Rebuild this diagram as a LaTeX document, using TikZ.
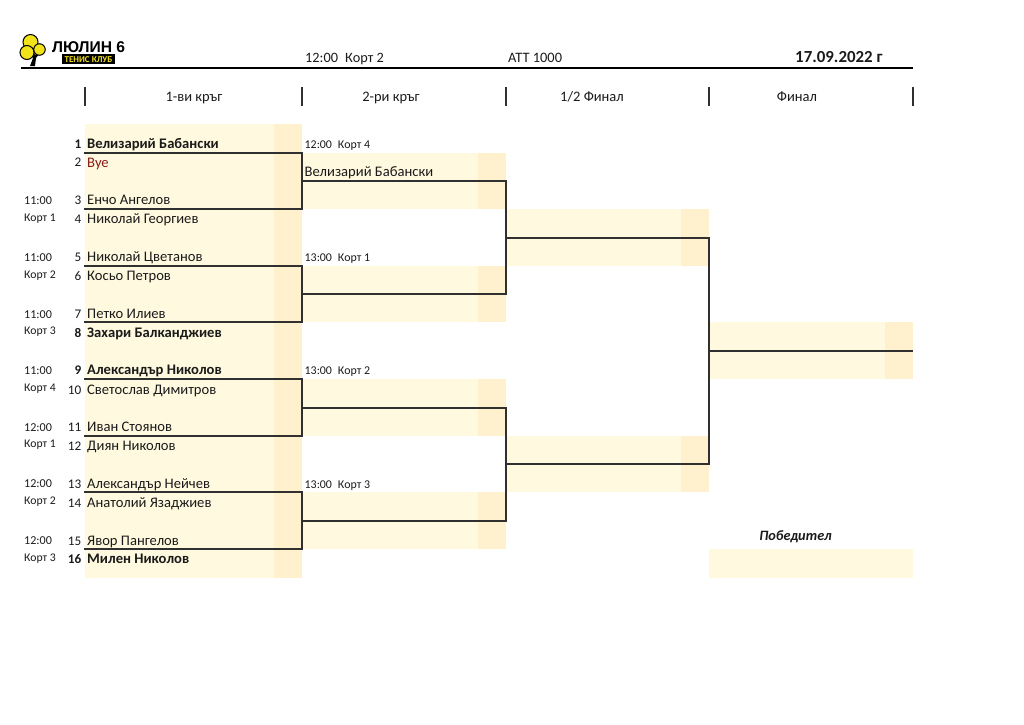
\documentclass[tikz,border=0pt]{standalone}
\usepackage{fontspec}
\setmainfont{Carlito}
\newfontfamily\logofont{Liberation Sans}
\definecolor{lite}{HTML}{FFFADF}
\definecolor{dark}{HTML}{FFF1CE}
\definecolor{bye}{HTML}{8B1A1A}
\definecolor{ink}{HTML}{1A1A1A}
\definecolor{wirec}{HTML}{303030}
\definecolor{treeY}{HTML}{F2E21B}
\tikzset{
  wire/.style={draw=wirec,line width=1.5pt,line cap=rect},
  head/.style={draw=wirec,line width=1.5pt},
  nm/.style={anchor=base west,inner sep=0pt,font=\fontsize{14.6}{15}\selectfont,text=ink},
  bnm/.style={nm,font=\fontsize{14.6}{15}\selectfont\bfseries},
  num/.style={anchor=base east,inner sep=0pt,font=\fontsize{13.2}{14}\selectfont,text=ink},
  bnum/.style={num,font=\fontsize{13.2}{14}\selectfont\bfseries},
  timetxt/.style={anchor=base west,inner sep=0pt,font=\fontsize{12.1}{13}\selectfont,text=ink},
  courttxt/.style={anchor=base west,inner sep=0pt,font=\fontsize{11.7}{13}\selectfont,text=ink},
  match/.style={anchor=base west,inner sep=0pt,font=\fontsize{11.9}{13}\selectfont,text=ink},
  title/.style={anchor=base,inner sep=0pt,font=\fontsize{14.5}{15}\selectfont,text=ink},
  ball/.style={fill=treeY,draw=black,line width=1pt,circle,inner sep=0pt},
}
\begin{document}
\begin{tikzpicture}[x=1pt,y=-1pt]
\useasboundingbox (0,0) rectangle (1024,724);
% fills
\fill[lite] (85,124) rectangle (274,578);
\fill[dark] (274,124) rectangle (302,578);
\foreach \a/\b in {152.5/209,265.5/322,379/436,492/549}{
  \fill[lite] (302,\a) rectangle (478,\b);
  \fill[dark] (478,\a) rectangle (505.5,\b);
}
\foreach \a/\b in {209/265.5,436/492}{
  \fill[lite] (505.5,\a) rectangle (681,\b);
  \fill[dark] (681,\a) rectangle (709,\b);
}
\fill[lite] (709,322) rectangle (885,379);
\fill[dark] (885,322) rectangle (912.5,379);
\fill[lite] (709,549) rectangle (912.5,577.5);
% logo
\fill[black] (30,66) -- (33,58) -- (30,50) -- (33,50) -- (35,55) -- (39,51) -- (40,53) -- (36,58) -- (35,66) -- cycle;
\node[ball,minimum size=15pt] (ballA) at (30.5,42) {};
\node[ball,minimum size=14pt] (ballB) at (27,52.5) {};
\node[ball,minimum size=11.5pt] (ballC) at (39.5,49.5) {};
\node[anchor=base west,inner sep=0pt,font=\logofont\fontsize{15.6}{16}\selectfont\bfseries,text=black] (brand) at (52,52) {ЛЮЛИН 6};
\node[anchor=center,inner sep=0pt,minimum width=53pt,minimum height=10pt,fill=black,text=treeY,font=\fontsize{9}{9}\selectfont\bfseries] (club) at (88.5,59.3) {ТЕНИС КЛУБ};
% top
\draw[black,line width=2.2pt] (21,68) -- (913,68);
\node[anchor=base west,inner sep=0pt,font=\fontsize{14.3}{15}\selectfont,text=ink] (h1) at (305,62) {12:00\enspace Корт 2};
\node[anchor=base west,inner sep=0pt,font=\fontsize{14.4}{15}\selectfont,text=ink] (h2) at (508,62) {ATT 1000};
\node[anchor=base west,inner sep=0pt,font=\fontsize{16.9}{17}\selectfont\bfseries,text=ink] (h3) at (795,62) {17.09.2022 г};
% column titles
\foreach \x in {85,302,506,709,913}{\draw[head] (\x,87) -- (\x,106);}
\node[title] (t1) at (194,101.5) {1-ви кръг};
\node[title] (t2) at (391,101.5) {2-ри кръг};
\node[title] (t3) at (592,101.5) {1/2 Финал};
\node[title] (t4) at (797,101.5) {Финал};
% names
\foreach \n/\y/\t/\s in {
 1/148.5/Велизарий Бабански/b,
 3/204.5/Енчо Ангелов/n,
 4/223.5/Николай Георгиев/n,
 5/261.5/Николай Цветанов/n,
 6/280.5/Косьо Петров/n,
 7/318/Петко Илиев/n,
 8/337/Захари Балканджиев/b,
 9/374.5/Александър Николов/b,
 10/394/Светослав Димитров/n,
 11/431/Иван Стоянов/n,
 12/450.5/Диян Николов/n,
 13/488/Александър Нейчев/n,
 14/507/Анатолий Язаджиев/n,
 15/545/Явор Пангелов/n,
 16/563.5/Милен Николов/b}{
  \if\s b
    \node[bnum] (n\n) at (81.5,\y) {\n};
    \node[bnm] (p\n) at (87,\y) {\t};
  \else
    \node[num] (n\n) at (81.5,\y) {\n};
    \node[nm] (p\n) at (87,\y) {\t};
  \fi
}
\node[num] (n2) at (81.5,166.5) {2};
\node[nm,text=bye] (p2) at (87,167) {Bye};
% times & courts left
\foreach \i/\y/\t in {a/204.5/11:00,b/261.5/11:00,c/318/11:00,d/374.5/11:00,e/431/12:00,f/487.5/12:00,g/544/12:00}{
  \node[timetxt] (tm\i) at (24,\y) {\t};
}
\foreach \i/\y/\t in {a/221.5/Корт 1,b/278/Корт 2,c/334.5/Корт 3,d/391/Корт 4,e/447.5/Корт 1,f/504.5/Корт 2,g/561/Корт 3}{
  \node[courttxt] (ct\i) at (24,\y) {\t};
}
% round-2 match info
\foreach \i/\y/\t in {a/148/12:00\enspace Корт 4,b/261.5/13:00\enspace Корт 1,c/374.5/13:00\enspace Корт 2,d/488/13:00\enspace Корт 3}{
  \node[match] (mi\i) at (304.5,\y) {\t};
}
\node[nm] (w1) at (304.5,176.5) {Велизарий Бабански};
\node[anchor=base,inner sep=0pt,font=\fontsize{14.3}{15}\selectfont\bfseries\itshape,text=ink] (win) at (795.5,540) {Победител};
% bracket coordinates
\foreach \nm/\y in {a1/153,a2/209,a3/266,a4/322,a5/379,a6/436,a7/492,a8/549}{\coordinate (\nm) at (85,\y);}
\foreach \nm/\y in {b1/153,b2/209,b3/266,b4/322,b5/379,b6/436,b7/492,b8/549}{\coordinate (\nm) at (302,\y);}
\foreach \nm/\y in {c1/181,c2/294,c3/408,c4/521}{\coordinate (\nm) at (302,\y);\coordinate (\nm r) at (506,\y);}
\foreach \nm/\y in {d1/238,d2/464}{\coordinate (\nm) at (506,\y);\coordinate (\nm r) at (709,\y);}
\coordinate (e1) at (709,351);\coordinate (e1r) at (912.5,351);
\draw[wire] (a1) -- (b1) -- (b2) -- (a2);
\draw[wire] (a3) -- (b3) -- (b4) -- (a4);
\draw[wire] (a5) -- (b5) -- (b6) -- (a6);
\draw[wire] (a7) -- (b7) -- (b8) -- (a8);
\draw[wire] (c1) -- (c1r) -- (c2r) -- (c2);
\draw[wire] (c3) -- (c3r) -- (c4r) -- (c4);
\draw[wire] (d1) -- (d1r) -- (d2r) -- (d2);
\draw[wire] (e1) -- (e1r);
\end{tikzpicture}
\end{document}
